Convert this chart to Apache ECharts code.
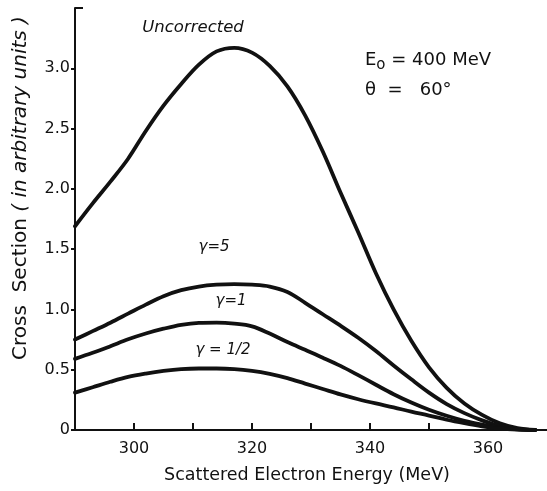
<!DOCTYPE html>
<html>
<head>
<meta charset="utf-8">
<script src="https://cdn.jsdelivr.net/npm/echarts@6/dist/echarts.min.js"></script>
<style>
html,body{margin:0;padding:0;background:#fff;}
#chart{width:547px;height:491px;}
</style>
</head>
<body>
<div id="chart"></div>
<script>
// ---- data ----
const energy      = [290, 293, 296, 299, 302, 305, 308, 311, 314, 317, 320, 323, 326, 329, 332, 335, 338, 341, 344, 347, 350, 353, 356, 359, 362, 365, 368];
const uncorrected = [1.69, 1.88, 2.06, 2.25, 2.48, 2.69, 2.87, 3.03, 3.14, 3.17, 3.13, 3.02, 2.85, 2.61, 2.31, 1.97, 1.64, 1.30, 1.00, 0.74, 0.52, 0.35, 0.22, 0.125, 0.055, 0.015, 0];
const gamma5      = [0.75, 0.82, 0.89, 0.965, 1.04, 1.11, 1.16, 1.19, 1.205, 1.21, 1.205, 1.19, 1.145, 1.055, 0.96, 0.865, 0.765, 0.655, 0.535, 0.42, 0.31, 0.215, 0.14, 0.08, 0.033, 0.008, 0];
const gamma1      = [0.59, 0.64, 0.695, 0.752, 0.80, 0.84, 0.872, 0.888, 0.89, 0.882, 0.86, 0.80, 0.73, 0.665, 0.60, 0.532, 0.455, 0.375, 0.297, 0.228, 0.168, 0.118, 0.076, 0.045, 0.02, 0.005, 0];
const gammaHalf   = [0.31, 0.355, 0.40, 0.44, 0.468, 0.49, 0.505, 0.51, 0.51, 0.505, 0.49, 0.465, 0.43, 0.385, 0.34, 0.295, 0.255, 0.22, 0.188, 0.152, 0.12, 0.085, 0.056, 0.031, 0.012, 0.003, 0];

const xTickValues  = [300, 310, 320, 330, 340, 350, 360];
const xLabelValues = [300, 320, 340, 360];
const yLabelValues = [0, 0.5, 1.0, 1.5, 2.0, 2.5, 3.0];
const yTopValue    = [3.5];

const xTitle = 'Scattered Electron Energy (MeV)';
const curveLabels = ['Uncorrected', 'γ=5', 'γ=1', 'γ = 1/2'];

// ---- chart ----
const FONT = 'DejaVu Sans';
const INK = '#111';
const chart = echarts.init(document.getElementById('chart'), null, {renderer: 'canvas'});

function pairs(vals) { return energy.map((e, i) => [e, vals[i]]); }
function curve(name, vals) {
  return {
    name: name, type: 'line', data: pairs(vals), smooth: 0.35, symbol: 'none',
    lineStyle: {color: INK, width: 3.8, cap: 'round', join: 'round'},
    xAxisIndex: 0, yAxisIndex: 0, silent: true, animation: false
  };
}

const option = {
  backgroundColor: '#fff',
  animation: false,
  grid: {left: 75, top: 8, right: -4.7, bottom: 61, containLabel: false},
  xAxis: {
    type: 'value', min: 290, max: 370, interval: 10,
    name: xTitle, nameLocation: 'middle', nameGap: 36,
    nameTextStyle: {fontFamily: FONT, fontSize: 17.5, color: INK, padding: [0, 8, 0, 0]},
    axisLine: {show: true, lineStyle: {color: INK, width: 2}},
    axisTick: {show: true, inside: true, length: 7, customValues: xTickValues, lineStyle: {color: INK, width: 2}},
    axisLabel: {show: true, customValues: xLabelValues, margin: 11, fontFamily: FONT, fontSize: 16, color: INK},
    splitLine: {show: false}
  },
  yAxis: [{
    type: 'value', min: 0, max: 3.5, interval: 0.5, position: 'left',
    axisLine: {show: true, lineStyle: {color: INK, width: 2}},
    axisTick: {show: true, inside: false, length: 4, customValues: yLabelValues, lineStyle: {color: INK, width: 2}},
    axisLabel: {show: true, customValues: yLabelValues, margin: 5, fontFamily: FONT, fontSize: 16, color: INK,
      formatter: v => (v === 0 ? '0' : v.toFixed(1))},
    splitLine: {show: false}
  }, {
    type: 'value', min: 0, max: 3.5, interval: 0.5, position: 'left',
    axisLine: {show: false},
    axisTick: {show: true, inside: true, length: 8, customValues: yTopValue, lineStyle: {color: INK, width: 2}},
    axisLabel: {show: false},
    splitLine: {show: false}
  }],
  series: [
    curve('Uncorrected', uncorrected),
    curve('gamma=5', gamma5),
    curve('gamma=1', gamma1),
    curve('gamma=1/2', gammaHalf)
  ],
  graphic: [
    {type: 'text', x: 21, y: 188, rotation: Math.PI / 2, silent: true,
      style: {text: '{a|Cross  Section }{b|( in arbitrary units )}', align: 'center', verticalAlign: 'middle', fill: INK,
        rich: {a: {fontFamily: FONT, fontSize: 20, fill: INK}, b: {fontFamily: FONT, fontSize: 20, fontStyle: 'italic', fill: INK}}}},
    {type: 'text', x: 193, y: 28, silent: true,
      style: {text: curveLabels[0], align: 'center', verticalAlign: 'middle', fill: INK, fontFamily: FONT, fontSize: 16.5, fontStyle: 'italic'}},
    {type: 'text', x: 214, y: 247, silent: true,
      style: {text: curveLabels[1], align: 'center', verticalAlign: 'middle', fill: INK, fontFamily: FONT, fontSize: 15, fontStyle: 'italic'}},
    {type: 'text', x: 231, y: 301, silent: true,
      style: {text: curveLabels[2], align: 'center', verticalAlign: 'middle', fill: INK, fontFamily: FONT, fontSize: 15, fontStyle: 'italic'}},
    {type: 'text', x: 223, y: 350, silent: true,
      style: {text: curveLabels[3], align: 'center', verticalAlign: 'middle', fill: INK, fontFamily: FONT, fontSize: 15, fontStyle: 'italic'}},
    {type: 'text', x: 365, y: 60, silent: true,
      style: {text: '{m|E}{s|o}{m| = 400 MeV}', align: 'left', verticalAlign: 'middle', fill: INK,
        rich: {m: {fontFamily: FONT, fontSize: 18, fill: INK, lineHeight: 26, verticalAlign: 'middle'},
               s: {fontFamily: FONT, fontSize: 15, fill: INK, lineHeight: 26, verticalAlign: 'bottom'}}}},
    {type: 'text', x: 365, y: 90, silent: true,
      style: {text: 'θ  =   60°', align: 'left', verticalAlign: 'middle', fill: INK, fontFamily: FONT, fontSize: 18}}
  ]
};
chart.setOption(option);
</script>
</body>
</html>
